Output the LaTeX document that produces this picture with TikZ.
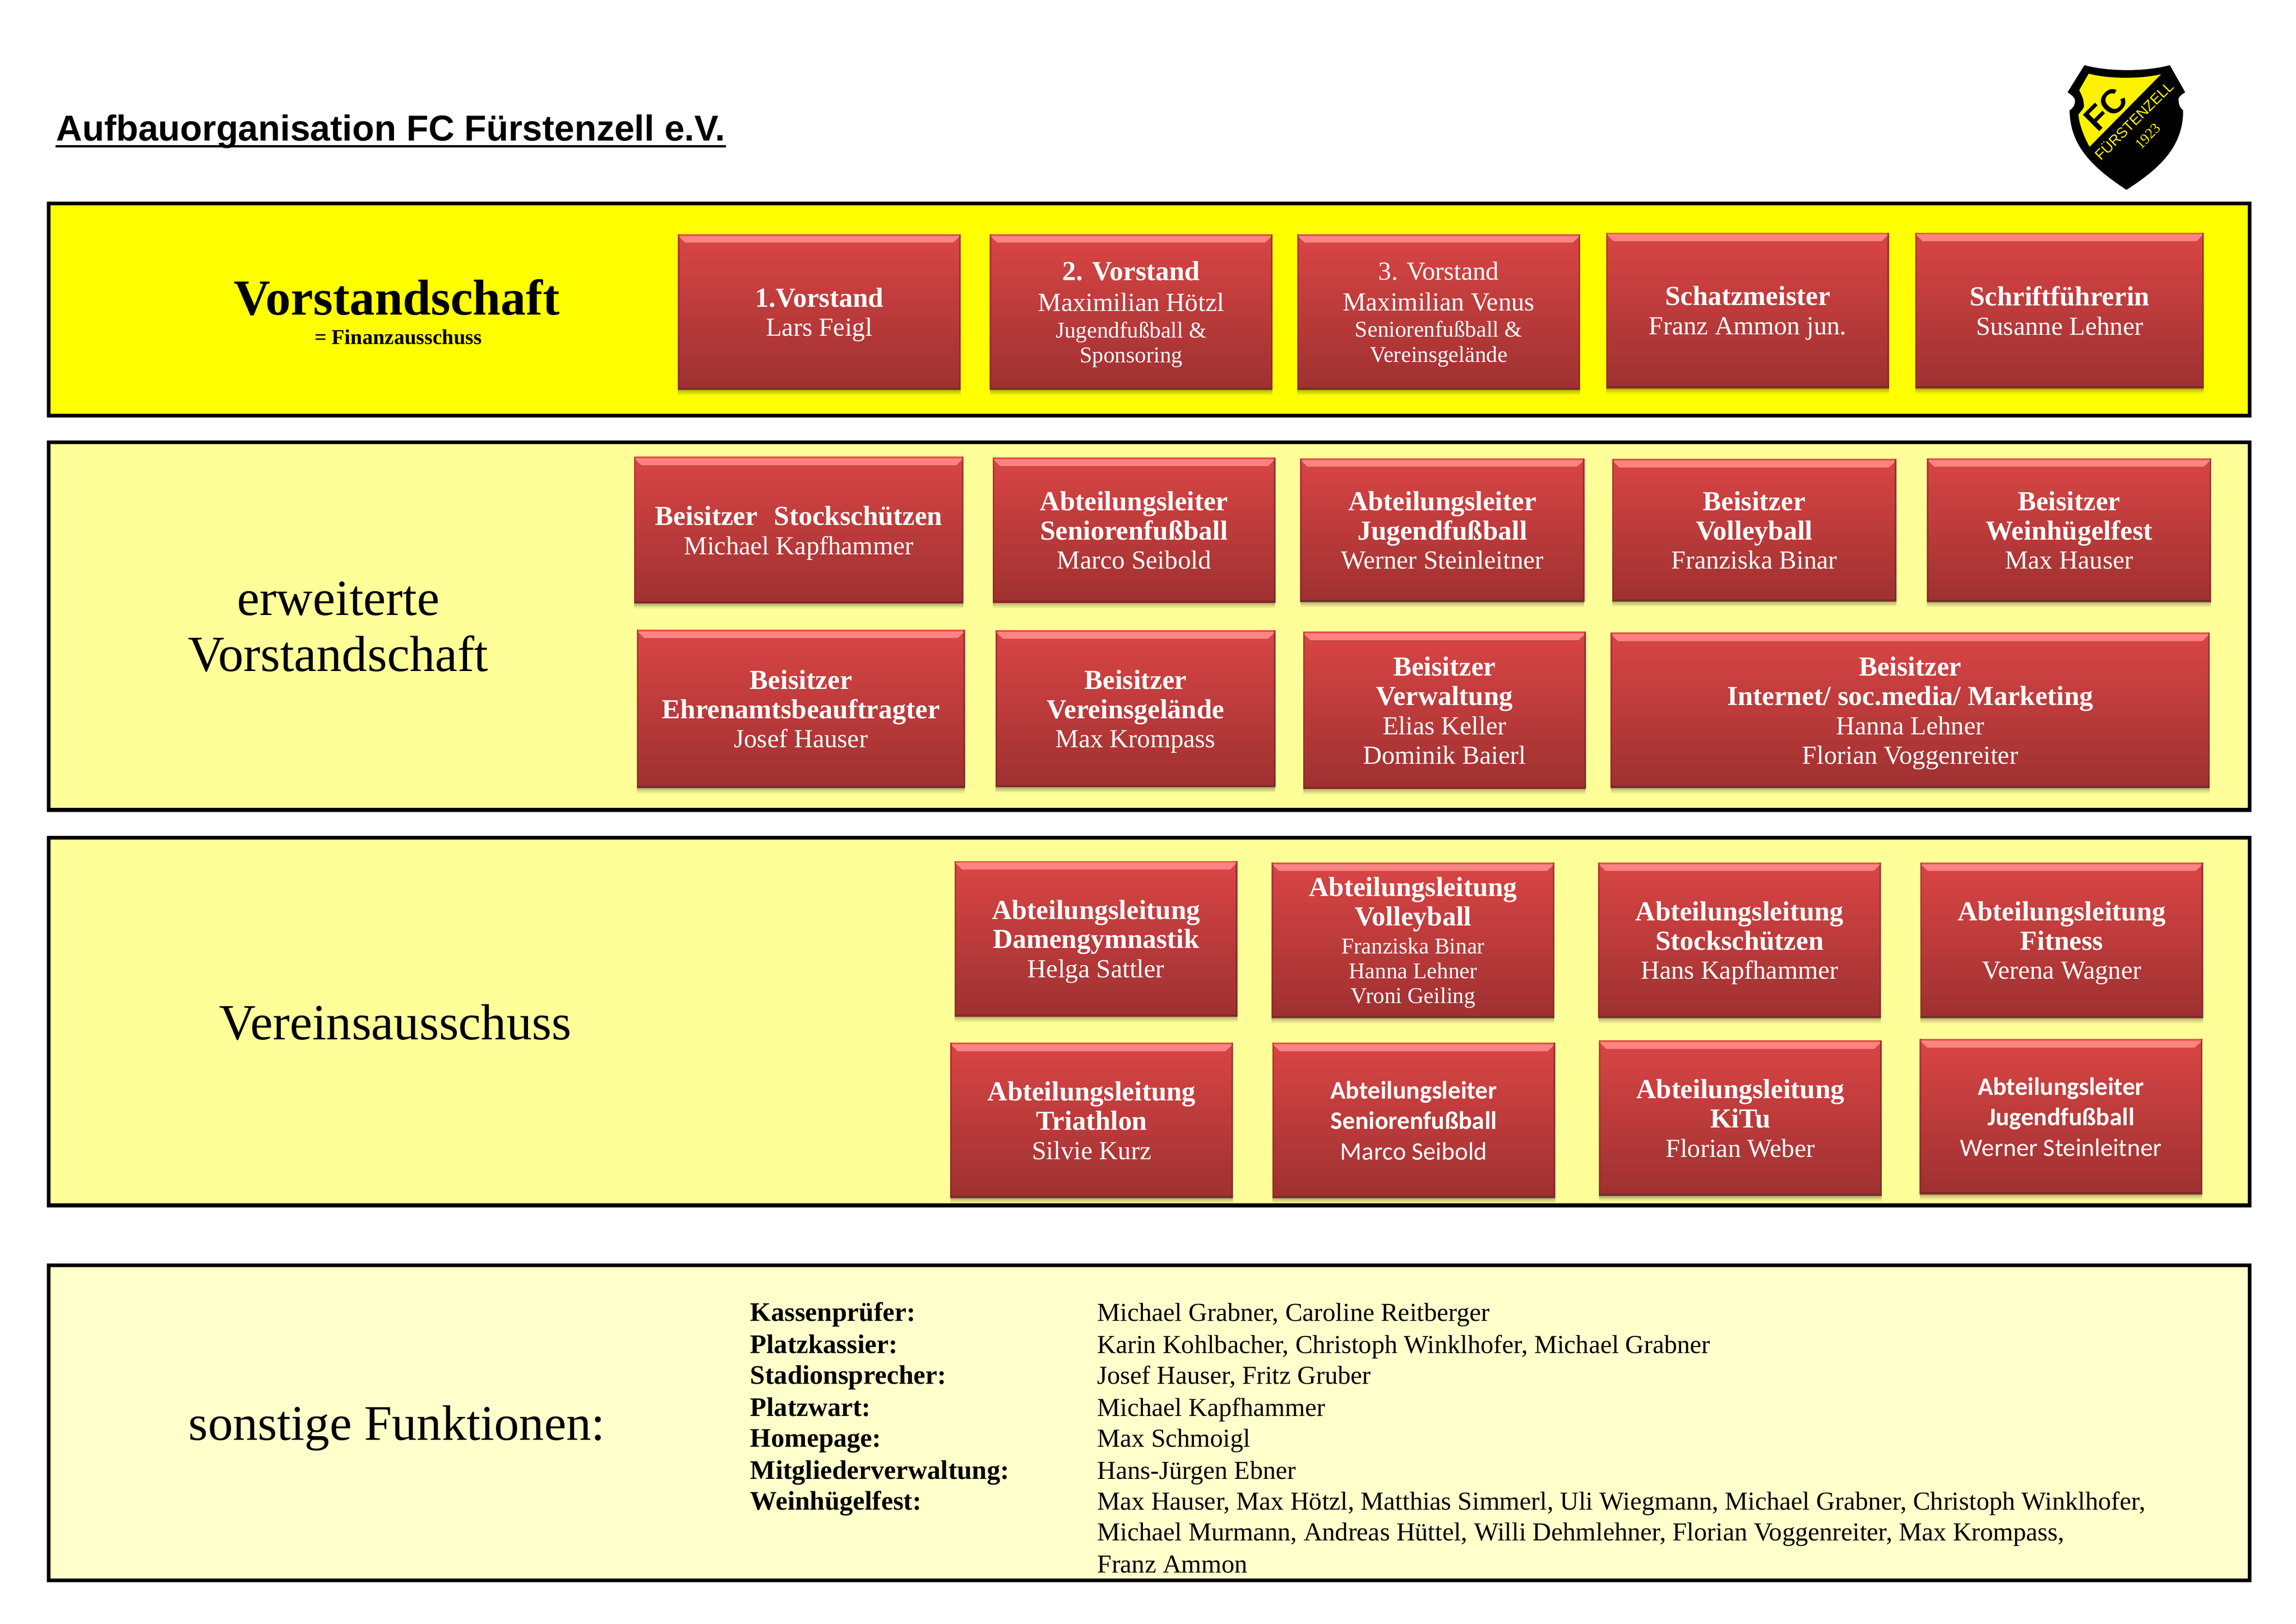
\documentclass[tikz,border=0pt]{standalone}
\usepackage{fontspec}
\setmainfont{Liberation Serif}
\newfontfamily\calfont{Carlito}
\newfontfamily\arialfont{Liberation Sans}
\usetikzlibrary{shadows}
\definecolor{boxtop}{rgb}{0.855,0.27,0.27}
\definecolor{boxbot}{rgb}{0.62,0.19,0.19}
\definecolor{bevel}{rgb}{1.0,0.52,0.52}
\definecolor{bevelend}{rgb}{0.85,0.27,0.27}
\definecolor{topline}{rgb}{0.91,0.33,0.25}
\definecolor{rim}{rgb}{0.48,0.17,0.17}
\definecolor{panela}{rgb}{1,1,0}
\definecolor{panelb}{rgb}{1,1,0.6}
\definecolor{panelc}{rgb}{1,1,0.8}
\newcommand{\smalltxt}{\fontsize{7.7}{8.6}\selectfont}
\newcommand{\boldtxt}[1]{{\fontsize{9.4}{10}\selectfont\bfseries #1}}
\newcommand{\calbold}[1]{{\fontsize{8.6}{10.4}\selectfont\bfseries #1}}

\begin{document}
\begin{tikzpicture}[x=0.5pt, y=-0.5pt,
    panel/.style={rectangle, draw=black, line width=1.3pt, minimum width=751.5pt, outer sep=0pt},
    redbox/.style={rectangle, top color=boxtop, bottom color=boxbot, text=white, align=center,
      minimum width=96.5pt, minimum height=53pt, inner sep=0pt, outer sep=0pt, text depth=-0.3pt,
      font=\fontsize{8.9}{10}\selectfont,
      general shadow={shadow yshift=-1.8pt, opacity=0.08, fill=black},
      general shadow={shadow yshift=-1.2pt, opacity=0.10, fill=black},
      general shadow={shadow yshift=-0.6pt, opacity=0.12, fill=black},
      path picture={
        \fill[top color=bevel, bottom color=bevelend] ([yshift=-0.5pt]path picture bounding box.north west) -- ([yshift=-0.5pt]path picture bounding box.north east)
          -- ([xshift=-2.5pt, yshift=-2.9pt]path picture bounding box.north east) -- ([xshift=2.5pt, yshift=-2.9pt]path picture bounding box.north west) -- cycle;
        \fill[topline] (path picture bounding box.north west) rectangle ([yshift=-0.5pt]path picture bounding box.north east);
        \fill[rim] (path picture bounding box.south west) rectangle ([yshift=0.7pt]path picture bounding box.south east);
        \fill[rim, opacity=0.5] (path picture bounding box.north west) rectangle ([xshift=0.5pt]path picture bounding box.south west);
        \fill[rim, opacity=0.7] (path picture bounding box.north east) rectangle ([xshift=-0.5pt]path picture bounding box.south east);
      }},
    calbox/.style={redbox, text depth=0pt, font=\calfont\fontsize{8.6}{10.4}\selectfont},
    heading/.style={align=center, inner sep=0pt, font=\fontsize{17.3}{19}\selectfont},
    listkey/.style={anchor=base west, inner sep=0pt, font=\fontsize{9.15}{10}\selectfont\bfseries},
    listval/.style={anchor=base west, inner sep=0pt, font=\fontsize{8.84}{10}\selectfont}]

    \useasboundingbox (0,0) rectangle (1568,1108.7);

    % title and logo
    \node[anchor=base west, inner sep=0pt, font=\arialfont\fontsize{12.3}{14}\selectfont\bfseries] (title) at (38,96) {Aufbauorganisation FC Fürstenzell e.V.};
    \draw[line width=0.75pt] ([yshift=-1.9pt]title.base west) -- ([yshift=-1.9pt]title.base east);
    \fill[black] (1423.5,44.5) .. controls (1440,49) and (1465,49) .. (1481.8,44.5) -- (1492.3,63) .. controls (1489,65) and (1487,67) .. (1487.9,69.3)
      .. controls (1488,72) and (1489,74) .. (1490.9,75.3) .. controls (1491,100) and (1475,115) .. (1452.2,129.6)
      .. controls (1430,115) and (1413.5,100) .. (1413.4,75.3) .. controls (1415.5,74) and (1417,72) .. (1417,69.3) .. controls (1417.5,67) and (1415,65) .. (1412,63) -- cycle;
    \fill[yellow] (1426.4,50.3) .. controls (1440,54) and (1462,54) .. (1475.8,50.7) -- (1427,100.2) .. controls (1423,93) and (1420,85) .. (1419.4,78.2)
      .. controls (1422,75) and (1424,73) .. (1423,70.8) .. controls (1423,67) and (1421,64) .. (1420,61.5) -- cycle;
    \node[rotate=45, inner sep=0pt, font=\arialfont\fontsize{11.5}{14}\selectfont\bfseries] (logofc) at (1438,74.5) {FC};
    \node[rotate=45, inner sep=0pt, text=yellow, font=\arialfont\fontsize{5}{6}\selectfont] (logoname) at (1457,82) {FÜRSTENZELL};
    \node[rotate=45, inner sep=0pt, text=yellow, font=\fontsize{5}{6}\selectfont] (logoyear) at (1466.8,93) {1923};

    % panels
    \node[panel, fill=panela, minimum height=72.4pt] (vspanel) at (784.85,211.4) {};
    \node[panel, fill=panelb, minimum height=125.5pt] (evpanel) at (784.85,427.5) {};
    \node[panel, fill=panelb, minimum height=125.5pt] (vapanel) at (784.85,697.5) {};
    \node[panel, fill=panelc, minimum height=107.5pt] (sfpanel) at (784.85,971.5) {};

    % panel headings
    \node[heading, font=\fontsize{17.2}{19}\selectfont\bfseries] (vshead) at (271,203) {Vorstandschaft};
    \node[heading, font=\fontsize{7.2}{8}\selectfont\bfseries] (vssub) at (272,230) {= Finanzausschuss};
    \node[heading] (evhead) at (231,428) {erweiterte\\Vorstandschaft};
    \node[heading] (vahead) at (270,698) {Vereinsausschuss};
    \node[heading, font=\fontsize{17}{19}\selectfont] (sfhead) at (271,975) {sonstige Funktionen:};

    % Vorstandschaft
    \node[redbox] (vsa) at (559.5,213) {\boldtxt{1.Vorstand}\\Lars Feigl};
    \node[redbox, right of=vsa, node distance=106.5pt] (vsb) {\boldtxt{2. Vorstand}\\[0.5pt]Maximilian Hötzl\\[-1pt]\smalltxt Jugendfußball \&\\[-1.5pt]\smalltxt Sponsoring};
    \node[redbox, right of=vsb, node distance=105pt] (vsc) {3. Vorstand\\[0.5pt]Maximilian Venus\\[-1pt]\smalltxt Seniorenfußball \&\\[-1.5pt]\smalltxt Vereinsgelände};
    \node[redbox, right of=vsc, node distance=105.5pt, yshift=0.5pt] (vsd) {\boldtxt{Schatzmeister}\\Franz Ammon jun.};
    \node[redbox, right of=vsd, node distance=106.5pt, minimum width=98.5pt] (vse) {\boldtxt{Schriftführerin}\\Susanne Lehner};

    % erweiterte Vorstandschaft
    \node[redbox, minimum width=112.5pt, minimum height=50pt] (eva) at (545.5,362) {\boldtxt{Beisitzer\hspace{0.6em}Stockschützen}\\Michael Kapfhammer};
    \node[redbox, right of=eva, node distance=114.5pt, minimum height=49.5pt] (evb) {\boldtxt{Abteilungsleiter}\\\boldtxt{Seniorenfußball}\\Marco Seibold};
    \node[redbox, right of=evb, node distance=105.25pt, minimum width=97pt, minimum height=49pt] (evc) {\boldtxt{Abteilungsleiter}\\\boldtxt{Jugendfußball}\\Werner Steinleitner};
    \node[redbox, right of=evc, node distance=106.5pt, minimum width=97pt, minimum height=48.5pt] (evd) {\boldtxt{Beisitzer}\\\boldtxt{Volleyball}\\Franziska Binar};
    \node[redbox, right of=evd, node distance=107.5pt, minimum width=97pt, minimum height=49pt] (eve) {\boldtxt{Beisitzer}\\\boldtxt{Weinhügelfest}\\Max Hauser};
    \node[redbox, minimum width=112pt, minimum height=54pt] (evf) at (547,484) {\boldtxt{Beisitzer}\\\boldtxt{Ehrenamtsbeauftragter}\\Josef Hauser};
    \node[redbox, right of=evf, node distance=114.25pt, minimum width=95.5pt, minimum height=53.5pt] (evg) {\boldtxt{Beisitzer}\\\boldtxt{Vereinsgelände}\\Max Krompass};
    \node[redbox, right of=evg, node distance=105.5pt, yshift=-0.5pt, minimum height=53.5pt] (evh) {\boldtxt{Beisitzer}\\\boldtxt{Verwaltung}\\Elias Keller\\Dominik Baierl};
    \node[redbox, right of=evh, node distance=159pt, minimum width=204.5pt] (evi) {\boldtxt{Beisitzer}\\\boldtxt{Internet/ soc.media/ Marketing}\\Hanna Lehner\\Florian Voggenreiter};

    % Vereinsausschuss
    \node[redbox] (vaa) at (748.5,641) {\boldtxt{Abteilungsleitung}\\\boldtxt{Damengymnastik}\\Helga Sattler};
    \node[redbox, right of=vaa, node distance=108.25pt, yshift=-0.5pt] (vab) {\boldtxt{Abteilungsleitung}\\\boldtxt{Volleyball}\\[-0.5pt]\smalltxt Franziska Binar\\[-1.5pt]\smalltxt Hanna Lehner\\[-1.5pt]\smalltxt Vroni Geiling};
    \node[redbox, right of=vab, node distance=111.5pt] (vac) {\boldtxt{Abteilungsleitung}\\\boldtxt{Stockschützen}\\Hans Kapfhammer};
    \node[redbox, right of=vac, node distance=110pt] (vad) {\boldtxt{Abteilungsleitung}\\\boldtxt{Fitness}\\Verena Wagner};
    \node[redbox] (vae) at (745.5,765) {\boldtxt{Abteilungsleitung}\\\boldtxt{Triathlon}\\Silvie Kurz};
    \node[calbox, right of=vae, node distance=110pt] (vaf) {\calbold{Abteilungsleiter}\\\calbold{Seniorenfußball}\\Marco Seibold};
    \node[redbox, right of=vaf, node distance=111.5pt, yshift=0.75pt] (vag) {\boldtxt{Abteilungsleitung}\\\boldtxt{KiTu}\\Florian Weber};
    \node[calbox, right of=vag, node distance=109.5pt, yshift=0.5pt] (vah) {\calbold{Abteilungsleiter}\\\calbold{Jugendfußball}\\Werner Steinleitner};

    % sonstige Funktionen
    \node[listkey] (keya) at (512,902) {Kassenprüfer:};
    \node[listkey] (keyb) at (512,924) {Platzkassier:};
    \node[listkey] (keyc) at (512,945) {Stadionsprecher:};
    \node[listkey] (keyd) at (512,967) {Platzwart:};
    \node[listkey] (keye) at (512,988) {Homepage:};
    \node[listkey] (keyf) at (512,1010) {Mitgliederverwaltung:};
    \node[listkey] (keyg) at (512,1031) {Weinhügelfest:};
    \node[listval] (vala) at (749,902) {Michael Grabner, Caroline Reitberger};
    \node[listval] (valb) at (749,924) {Karin Kohlbacher, Christoph Winklhofer, Michael Grabner};
    \node[listval] (valc) at (749,945) {Josef Hauser, Fritz Gruber};
    \node[listval] (vald) at (749,967) {Michael Kapfhammer};
    \node[listval] (vale) at (749,988) {Max Schmoigl};
    \node[listval] (valf) at (749,1010) {Hans-Jürgen Ebner};
    \node[listval] (valg) at (749,1031) {Max Hauser, Max Hötzl, Matthias Simmerl, Uli Wiegmann, Michael Grabner, Christoph Winklhofer,};
    \node[listval] (valh) at (749,1052) {Michael Murmann, Andreas Hüttel, Willi Dehmlehner, Florian Voggenreiter, Max Krompass,};
    \node[listval] (vali) at (749,1074) {Franz Ammon};

\end{tikzpicture}
\end{document}
